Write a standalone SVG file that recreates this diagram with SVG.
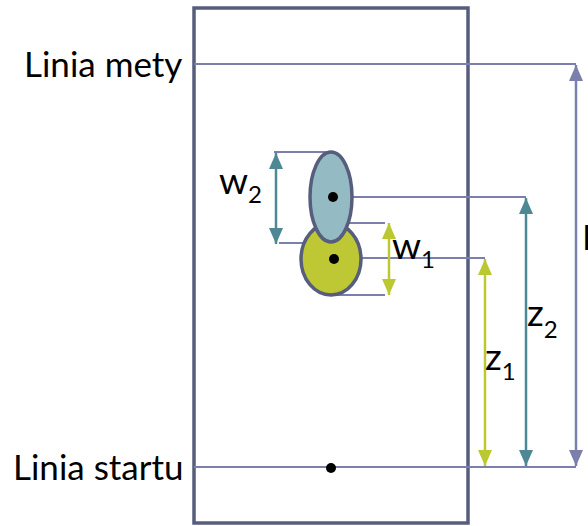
<svg xmlns="http://www.w3.org/2000/svg" width="588" height="526" viewBox="0 0 588 526">
<defs>
<marker id="aL" viewBox="0 0 16 14" refX="16" refY="7" markerWidth="16" markerHeight="14" markerUnits="userSpaceOnUse" orient="auto-start-reverse"><path d="M0,0 L16,7 L0,14 Z" fill="#7a80ab"/></marker>
<marker id="aT" viewBox="0 0 16 14" refX="16" refY="7" markerWidth="16" markerHeight="14" markerUnits="userSpaceOnUse" orient="auto-start-reverse"><path d="M0,0 L16,7 L0,14 Z" fill="#4e8894"/></marker>
<marker id="aG" viewBox="0 0 16 14" refX="16" refY="7" markerWidth="16" markerHeight="14" markerUnits="userSpaceOnUse" orient="auto-start-reverse"><path d="M0,0 L16,7 L0,14 Z" fill="#bcc832"/></marker>
</defs>
<style>
.lbl{font-family:Lato,"Open Sans","Liberation Sans",sans-serif;font-size:35px;fill:#000}
.var{font-size:37px}
.sub{font-size:24px}
.thin{stroke:#7a80ab;stroke-width:2;fill:none}
.dot{fill:#000}
</style>
<rect width="588" height="526" fill="#fff"/>
<g id="frame"><rect x="194" y="8" width="274" height="515" fill="none" stroke="#575d7c" stroke-width="3.5"/></g>
<g id="connectors">
<line class="thin" x1="194" y1="64" x2="576" y2="64"/>
<line class="thin" x1="194" y1="467" x2="576" y2="467"/>
<line class="thin" x1="333" y1="197" x2="526" y2="197"/>
<line class="thin" x1="334" y1="258" x2="485" y2="258"/>
<line class="thin" x1="274" y1="152" x2="332" y2="152"/>
<line class="thin" x1="279" y1="243" x2="332" y2="243"/>
<line class="thin" x1="333" y1="223" x2="385" y2="223"/>
<line class="thin" x1="333" y1="295" x2="385" y2="295"/>
<line x1="576" y1="65" x2="576" y2="466" stroke="#7a80ab" stroke-width="2.5" marker-start="url(#aL)" marker-end="url(#aL)"/>
<line x1="526" y1="198" x2="526" y2="466" stroke="#4e8894" stroke-width="2.5" marker-start="url(#aT)" marker-end="url(#aT)"/>
<line x1="485" y1="259" x2="485" y2="466" stroke="#bcc832" stroke-width="2.5" marker-start="url(#aG)" marker-end="url(#aG)"/>
<line x1="276" y1="153" x2="276" y2="244" stroke="#4e8894" stroke-width="2.5" marker-start="url(#aT)" marker-end="url(#aT)"/>
<line x1="389" y1="223" x2="389" y2="295" stroke="#bcc832" stroke-width="2.5" marker-start="url(#aG)" marker-end="url(#aG)"/>
</g>
<g id="ellipse-green"><ellipse cx="331" cy="259" rx="30" ry="36" fill="#bec834" stroke="#575d7c" stroke-width="3.5"/></g>
<g id="ellipse-blue"><ellipse cx="331" cy="197" rx="21" ry="45" fill="#94bac3" stroke="#575d7c" stroke-width="3.5"/></g>
<g id="dots">
<circle class="dot" cx="333" cy="197" r="5"/>
<circle class="dot" cx="334" cy="259" r="5"/>
<circle class="dot" cx="331" cy="468" r="5"/>
</g>
<g id="labels">
<text class="lbl" x="24" y="77">Linia mety</text>
<text class="lbl" x="13" y="480">Linia startu</text>
<text class="lbl var" x="219" y="194">w<tspan class="sub" dy="9">2</tspan></text>
<text class="lbl var" x="392" y="259">w<tspan class="sub" dy="9">1</tspan></text>
<text class="lbl var" x="527" y="326">z<tspan class="sub" dy="12">2</tspan></text>
<text class="lbl var" x="485" y="370">z<tspan class="sub" dy="10">1</tspan></text>
<text class="lbl" x="582" y="250">H</text>
</g>
</svg>
